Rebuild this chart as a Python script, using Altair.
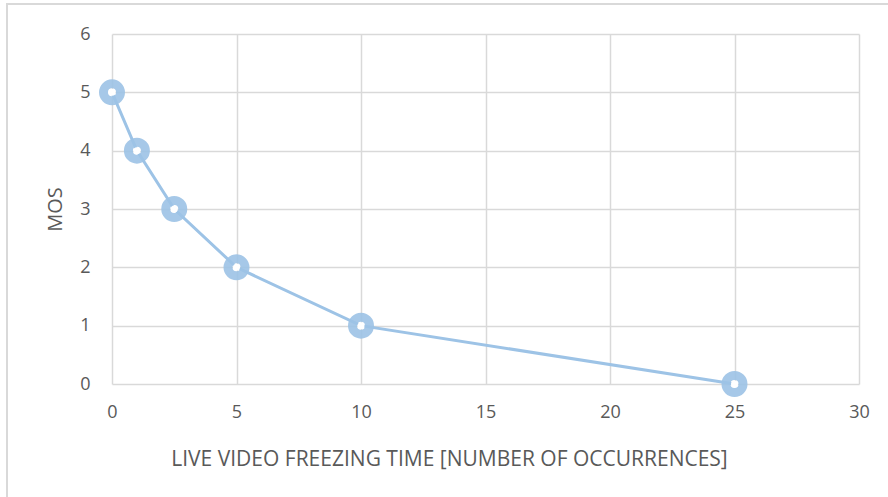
import altair as alt
import pandas as pd

# Freezing occurrences vs. mean opinion score
occurrences = [0, 1, 2.5, 5, 10, 25]
mos = [5, 4, 3, 2, 1, 0]

df = pd.DataFrame({"occ": occurrences, "mos": mos})

font = "Open Sans"
blue = "#9dc3e6"
text_grey = "#595959"

axis_style = dict(
    titleFont=font, titleFontWeight="normal", titleColor=text_grey,
    labelFont=font, labelFontSize=18, labelColor=text_grey,
    ticks=False, domain=False, labelFlush=False,
    gridColor="#d9d9d9", gridWidth=1.5, format="d",
)

x_enc = alt.X(
    "occ:Q",
    scale=alt.Scale(domain=[0, 30], nice=False),
    axis=alt.Axis(
        values=[0, 5, 10, 15, 20, 25, 30],
        title="LIVE VIDEO FREEZING TIME [NUMBER OF OCCURRENCES]",
        titleFontSize=21, titleX=337,
        labelPadding=19, titlePadding=27,
        **axis_style,
    ),
)
y_enc = alt.Y(
    "mos:Q",
    scale=alt.Scale(domain=[0, 6], nice=False),
    axis=alt.Axis(
        values=[0, 1, 2, 3, 4, 5, 6],
        title="MOS",
        titleFontSize=20,
        labelPadding=22, titlePadding=14,
        **axis_style,
    ),
)

base = alt.Chart(df).encode(x=x_enc, y=y_enc)

line = base.mark_line(color=blue, strokeWidth=3)

rings = base.mark_point(
    shape="circle", filled=False, stroke=blue, strokeWidth=9,
    size=289, opacity=0.9,
)

centers = base.mark_point(
    shape="circle", filled=True, fill="white", size=49, opacity=1,
)

# light frame around the whole chart area
frame = alt.Chart(df).mark_rect(
    fill=None, stroke="#d9d9d9", strokeWidth=2
).encode(
    x=alt.value(-105), x2=alt.value(800),
    y=alt.value(-30), y2=alt.value(520),
)

chart = alt.layer(frame, line, rings, centers).properties(
    width=747, height=350,
    padding={"left": 112, "top": 34, "right": 29, "bottom": 113},
    autosize=alt.AutoSizeParams(type="none"),
    background="white",
).configure_view(stroke=None)

chart.save("out.html", embed_options={"renderer": "svg", "actions": False})
